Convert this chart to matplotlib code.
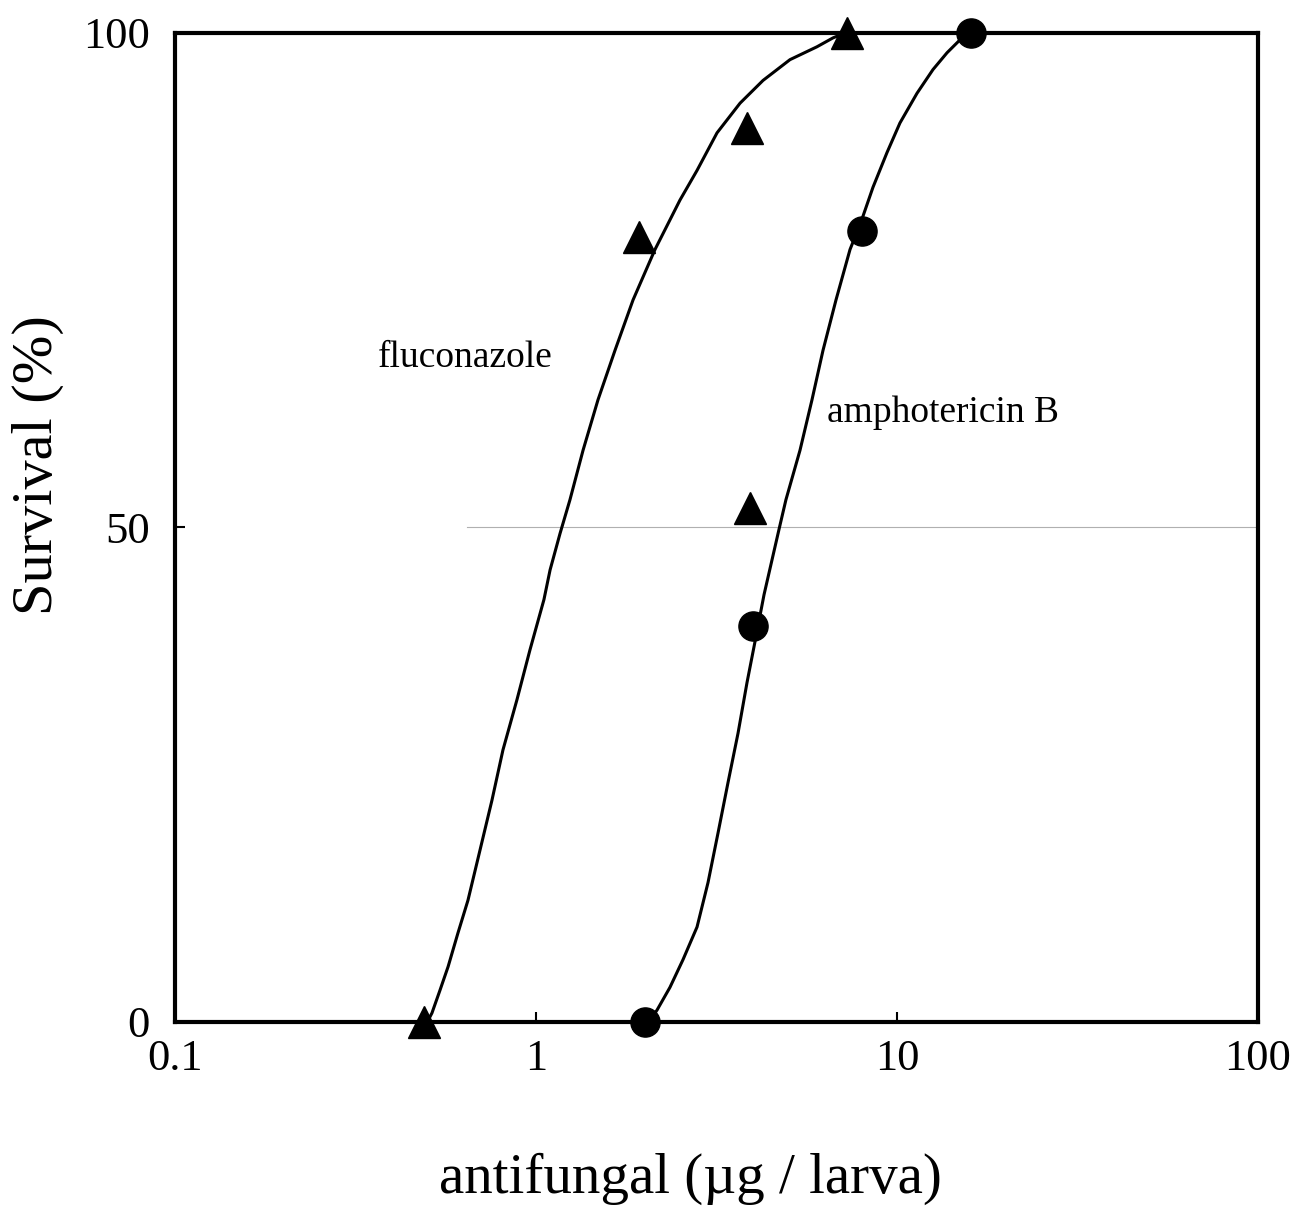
import matplotlib
matplotlib.use('Agg')
import matplotlib.pyplot as plt

# measured points
flu_dose = [0.49, 1.93, 3.84, 7.27, 3.92]
flu_surv = [0, 79.4, 90.4, 100, 52]
amb_dose = [2.0, 4.0, 8.0, 16.0]
amb_surv = [0, 40, 80, 100]

# fitted curves
flu_curve_x = [0.50, 0.515, 0.542, 0.571, 0.608, 0.648, 0.700, 0.755, 0.810, 0.886,
               0.962, 1.052, 1.094, 1.166, 1.242, 1.350, 1.485, 1.655, 1.857,
               2.136, 2.505, 2.793, 3.173, 3.675, 4.255, 5.053, 6.001, 6.647, 7.18]
flu_curve_y = [0, 0.9, 3.2, 5.6, 9.0, 12.3, 17.4, 22.4, 27.5, 32.6,
               37.6, 42.7, 45.7, 49.4, 52.8, 57.8, 62.9, 67.9, 73.0,
               78.1, 83.1, 86.1, 89.9, 92.9, 95.2, 97.3, 98.6, 99.5, 100]
amb_curve_x = [2.05, 2.164, 2.350, 2.554, 2.793, 2.996, 3.193, 3.403, 3.628, 3.841,
               4.04, 4.282, 4.711, 4.924, 5.386, 5.814, 6.237, 6.776, 7.41, 7.95,
               8.58, 9.38, 10.19, 11.36, 12.58, 13.76, 14.94, 15.93]
amb_curve_y = [0, 1.2, 3.5, 6.3, 9.6, 14.1, 19.1, 24.2, 29.2, 34.3,
               38.4, 43.2, 49.8, 52.8, 57.8, 62.9, 67.9, 73.0, 78.1, 80.9,
               84.4, 87.9, 90.9, 93.9, 96.3, 98.0, 99.3, 100]

xticks = [0.1, 1, 10, 100]
xticklabels = ['0.1', '1', '10', '100']
yticks = [0, 50, 100]

plt.rcParams['font.family'] = ['Liberation Serif', 'DejaVu Serif']

fig = plt.figure(figsize=(12.96, 12.07), dpi=100)
ax = fig.add_axes([0.135, 0.1533, 0.8357, 0.8194])

ax.axhline(50, xmin=0.27, xmax=1, color='#b0b0b0', lw=0.8, zorder=1)

ax.plot(flu_curve_x, flu_curve_y, color='black', lw=2.2, zorder=2)
ax.plot(amb_curve_x, amb_curve_y, color='black', lw=2.2, zorder=2)
ax.plot(flu_dose, flu_surv, '^', color='black', ms=23, clip_on=False, zorder=3)
ax.plot(amb_dose, amb_surv, 'o', color='black', ms=21, clip_on=False, zorder=3)

ax.text(0.365, 67.2, 'fluconazole', fontsize=27, va='center', ha='left')
ax.text(6.40, 61.6, 'amphotericin B', fontsize=27, va='center', ha='left')

ax.set_xscale('log')
ax.set_xlim(0.1, 100)
ax.set_ylim(0, 100)
ax.set_xticks(xticks)
ax.set_xticklabels(xticklabels)
ax.minorticks_off()
ax.set_yticks(yticks)
ax.tick_params(axis='both', direction='in', length=7, width=1.5, labelsize=32)
ax.tick_params(axis='x', pad=12)
ax.tick_params(axis='y', pad=18)

for s in ax.spines.values():
    s.set_linewidth(3)

ax.set_xlabel('antifungal (\u00b5g / larva)', fontsize=41, labelpad=53)
ax.xaxis.label.set_x(0.4755)
ax.set_ylabel('Survival (%)', fontsize=42, labelpad=14)
ax.yaxis.label.set_y(0.563)

fig.savefig('out.png', dpi=100)
